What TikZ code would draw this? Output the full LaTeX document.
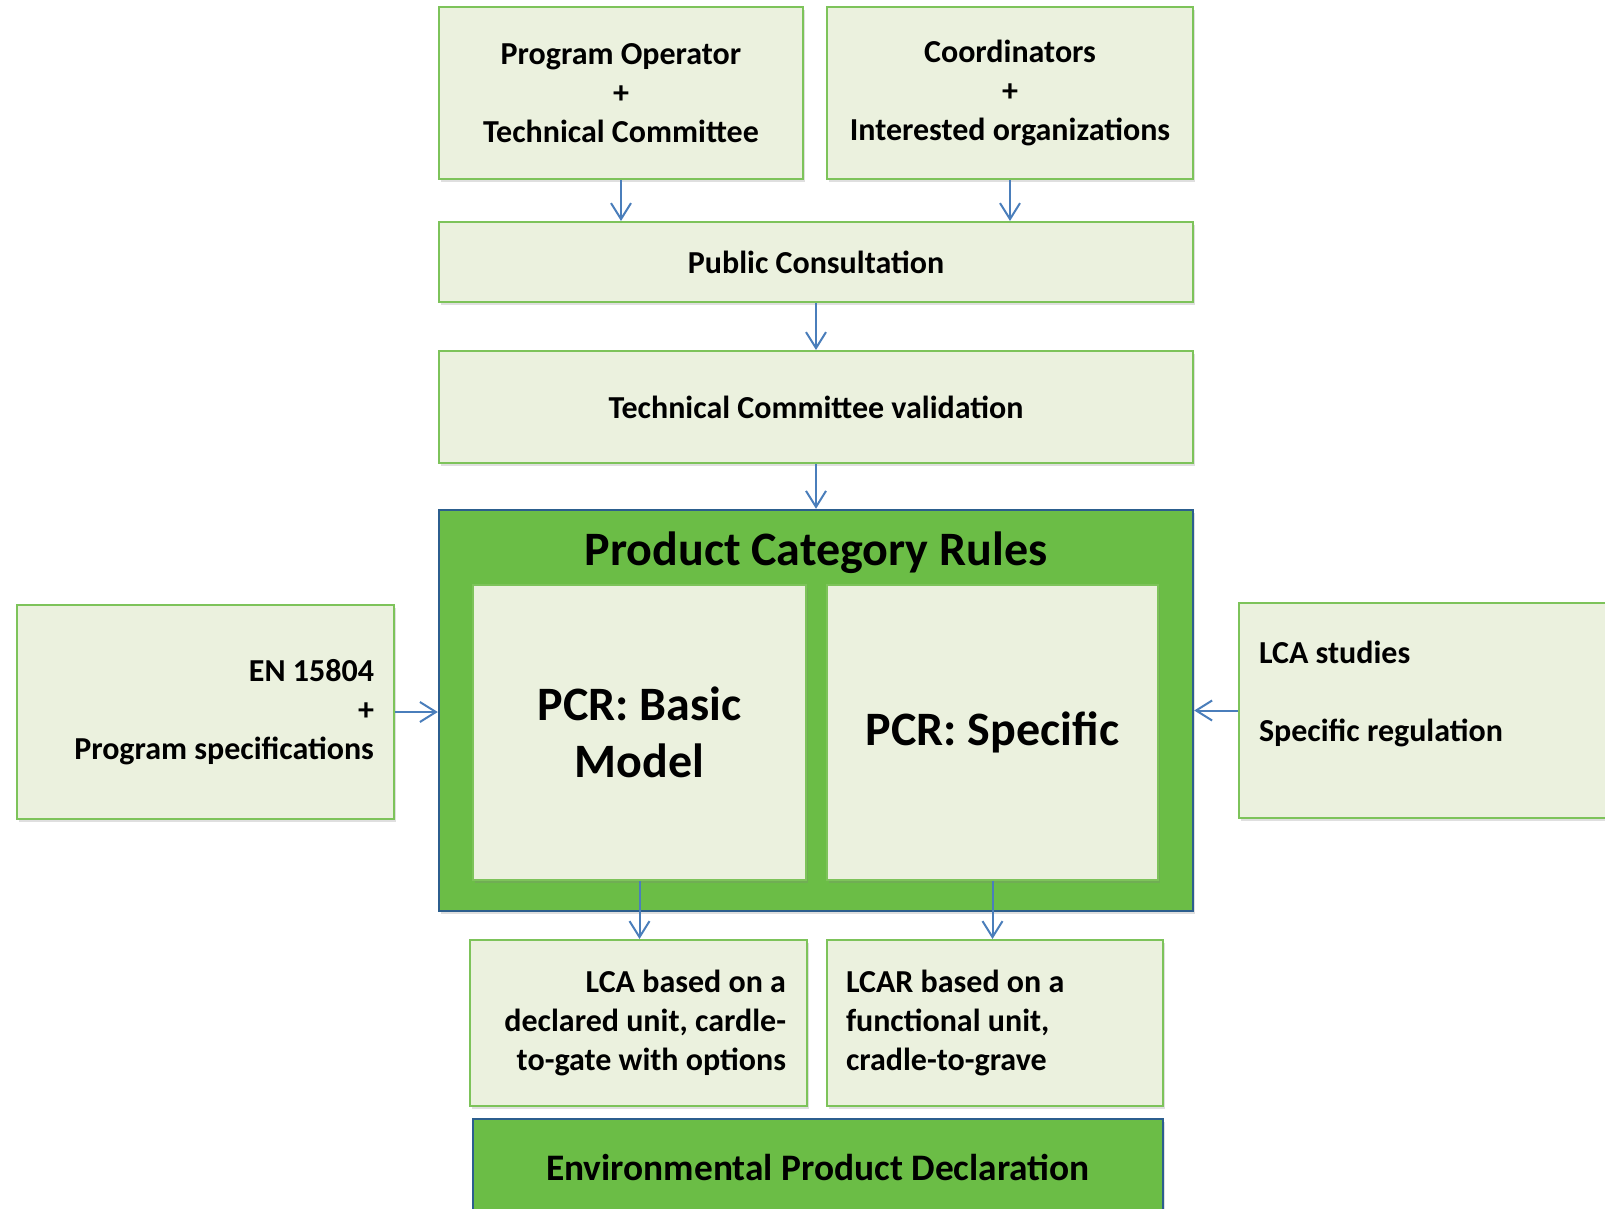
\documentclass[tikz,border=0pt]{standalone}
\usepackage{fontspec}
\setmainfont{Carlito}
\usepackage{tikz}
\usetikzlibrary{arrows.meta,shadows}
\definecolor{boxfill}{HTML}{EBF1DE}
\definecolor{boxline}{HTML}{7DC35A}
\definecolor{pcrgreen}{HTML}{6BBD46}
\definecolor{pcrline}{HTML}{2C5E8E}
\definecolor{flowblue}{HTML}{4A7EBB}
\tikzset{
  lightbox/.style={rectangle, draw=boxline, fill=boxfill, line width=1pt, inner sep=0pt,
    font=\fontsize{16}{19.5}\selectfont\bfseries,
    drop shadow={shadow xshift=1pt, shadow yshift=-1.5pt, opacity=0.25}},
  greenbox/.style={rectangle, draw=pcrline, fill=pcrgreen, line width=1.2pt, inner sep=0pt,
    drop shadow={shadow xshift=1pt, shadow yshift=-1.5pt, opacity=0.25}},
  flow/.style={draw=flowblue, line width=1pt, -{Straight Barb[length=8pt,width=10pt]}}
}
\begin{document}
\begin{tikzpicture}[x=0.5pt,y=-0.5pt]
\useasboundingbox (0,0) rectangle (1605,1209);
\clip (0,0) rectangle (1605,1209);
\node[lightbox, minimum width=182pt, minimum height=86pt, align=center] (po) at (621,93) {Program Operator\\+\\Technical Committee};
\node[lightbox, minimum width=183pt, minimum height=86pt, align=center] (coord) at (1010,93) {Coordinators\\+\\Interested organizations};
\node[lightbox, minimum width=377pt, minimum height=40pt] (pc) at (816,262) {Public Consultation};
\node[lightbox, minimum width=377pt, minimum height=56pt] (tcv) at (816,407) {Technical Committee validation};
\node[greenbox, minimum width=377pt, minimum height=200.5pt] (pcr) at (816,710.5) {};
\node[font=\fontsize{24}{28}\selectfont\bfseries] (pcrtitle) at (816,553) {Product Category Rules};
\node[lightbox, minimum width=166.5pt, minimum height=147.5pt, align=center, font=\fontsize{24}{28.5}\selectfont\bfseries] (basic) at (639.5,732.5) {PCR: Basic\\Model};
\node[lightbox, minimum width=165.5pt, minimum height=147.5pt, font=\fontsize{24}{28.5}\selectfont\bfseries] (specific) at (992.5,732.5) {PCR: Specific};
\node[lightbox, minimum height=107pt, inner xsep=10pt, text width=168.5pt, align=flush right] (en) at (205.5,712) {EN 15804\\+\\Program specifications};
\node[lightbox, minimum height=107.5pt, inner xsep=10pt, text width=180pt, align=flush left] (lca) at (1439,710.5) {LCA studies\\~\\Specific regulation\\~};
\node[lightbox, minimum height=83pt, inner xsep=10.5pt, text width=147.5pt, align=flush right] (lcab) at (638.5,1023) {LCA based on a\\declared unit, cardle-\\to-gate with options};
\node[lightbox, minimum height=83pt, inner xsep=9.5pt, text width=149pt, align=flush left] (lcar) at (995,1023) {LCAR based on a\\functional unit,\\cradle-to-grave};
\node[greenbox, minimum width=345pt, minimum height=48pt, font=\fontsize{18.7}{23}\selectfont\bfseries] (epd) at (818,1167) {Environmental Product Declaration};
\draw[flow] (po.south) -- (po.south |- pc.north);
\draw[flow] (coord.south) -- (coord.south |- pc.north);
\draw[flow] (pc.south) -- (tcv.north);
\draw[flow] (tcv.south) -- (pcr.north);
\draw[flow] (en.east) -- (en.east -| pcr.west);
\draw[flow] (lca.west) -- (lca.west -| pcr.east);
\draw[flow] (basic.south) -- (basic.south |- lcab.north);
\draw[flow] (specific.south) -- (specific.south |- lcar.north);
\end{tikzpicture}
\end{document}
